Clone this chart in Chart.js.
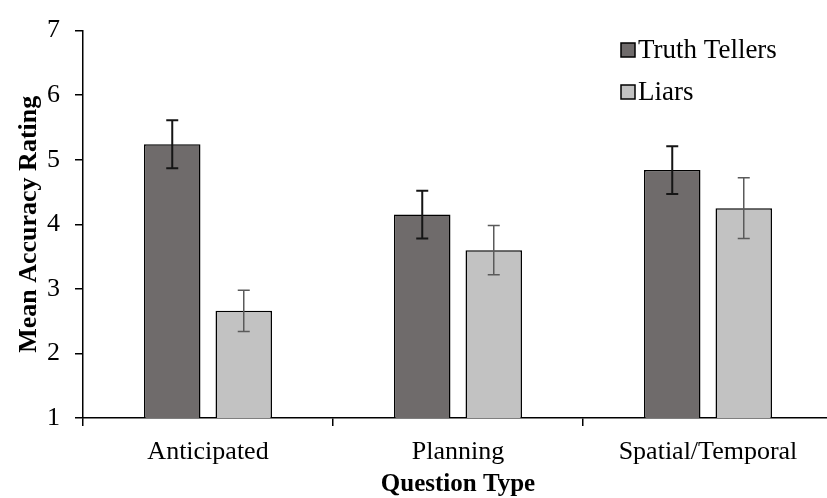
<!DOCTYPE html>
<html>
<head>
<meta charset="utf-8">
<script src="https://cdn.jsdelivr.net/npm/chart.js@4.4.1/dist/chart.umd.min.js"></script>
<style>
  html, body { margin: 0; padding: 0; background: #fff; overflow: hidden; }
  #wrap { width: 833px; height: 498px; }
</style>
</head>
<body>
<div id="wrap"><canvas id="chart"></canvas></div>
<script>
// values
const categories = ["Anticipated", "Planning", "Spatial/Temporal"];
const truthMeans = [5.24, 4.15, 4.84];
const truthErr = [0.37, 0.37, 0.37];
const liarMeans = [2.66, 3.60, 4.25];
const liarErr = [0.32, 0.38, 0.47];
const yTicks = [1, 2, 3, 4, 5, 6, 7];

const serif = "'Liberation Serif', 'Times New Roman', serif";
const errs = [truthErr, liarErr];
const errColors = ["#151515", "#5a5a5a"];
const errWidths = [2, 1.5];

// error bars drawn from the y scale
const errorBars = {
  id: "errorBars",
  afterDatasetsDraw(chart) {
    const ctx = chart.ctx;
    const y = chart.scales.y;
    chart.data.datasets.forEach((ds, i) => {
      const meta = chart.getDatasetMeta(i);
      meta.data.forEach((bar, j) => {
        const top = y.getPixelForValue(ds.data[j] + errs[i][j]);
        const bot = y.getPixelForValue(ds.data[j] - errs[i][j]);
        ctx.save();
        ctx.strokeStyle = errColors[i];
        ctx.lineWidth = errWidths[i];
        ctx.beginPath();
        ctx.moveTo(bar.x, top); ctx.lineTo(bar.x, bot);
        ctx.moveTo(bar.x - 6, top); ctx.lineTo(bar.x + 6, top);
        ctx.moveTo(bar.x - 6, bot); ctx.lineTo(bar.x + 6, bot);
        ctx.stroke();
        ctx.restore();
      });
    });
  }
};

// legend stacked in the top right corner
const cornerLegend = {
  id: "cornerLegend",
  afterDraw(chart) {
    const ctx = chart.ctx;
    ctx.save();
    ctx.font = "27px " + serif;
    ctx.textBaseline = "middle";
    chart.data.datasets.forEach((ds, i) => {
      const cy = 50 + i * 42;
      ctx.fillStyle = ds.backgroundColor;
      ctx.fillRect(621, cy - 7, 14, 14);
      ctx.strokeStyle = "#000";
      ctx.lineWidth = 1.5;
      ctx.strokeRect(621, cy - 7, 14, 14);
      ctx.fillStyle = "#000";
      ctx.fillText(ds.label, 638, cy + 1);
    });
    ctx.restore();
  }
};

new Chart(document.getElementById("chart"), {
  type: "bar",
  data: {
    labels: categories,
    datasets: [
      {
        label: "Truth Tellers",
        data: truthMeans,
        backgroundColor: "#6f6b6b",
        borderColor: "#000",
        borderWidth: 1.5,
        borderSkipped: false,
        categoryPercentage: 0.572,
        barPercentage: 0.79,
      },
      {
        label: "Liars",
        data: liarMeans,
        backgroundColor: "#c2c2c2",
        borderColor: "#000",
        borderWidth: 1.5,
        borderSkipped: false,
        categoryPercentage: 0.572,
        barPercentage: 0.79,
      },
    ],
  },
  options: {
    responsive: true,
    maintainAspectRatio: false,
    animation: false,
    layout: { padding: { top: 25, right: 0, left: 0, bottom: 0 } },
    plugins: {
      legend: { display: false },
      tooltip: { enabled: false },
    },
    scales: {
      x: {
        grid: { drawOnChartArea: false, drawTicks: true, tickLength: 8, color: "#000", lineWidth: 1.5 },
        border: { display: true, color: "#000", width: 1.5 },
        ticks: { color: "#000", padding: 11, font: { family: serif, size: 26 } },
        title: {
          display: true,
          text: "Question Type",
          color: "#000",
          padding: { top: 0, bottom: 1 },
          font: { family: serif, size: 25, weight: "bold", lineHeight: 1 },
        },
        afterFit(scale) { scale.height = 80; },
      },
      y: {
        min: 1,
        max: 7,
        afterBuildTicks(scale) { scale.ticks = yTicks.map(v => ({ value: v })); },
        grid: { drawOnChartArea: false, drawTicks: true, tickLength: 8, color: "#000", lineWidth: 1.5 },
        border: { display: true, color: "#000", width: 1.5 },
        ticks: { color: "#000", padding: 15, font: { family: serif, size: 26 } },
        title: {
          display: true,
          text: "Mean Accuracy Rating",
          color: "#000",
          padding: { top: 14, bottom: 0 },
          font: { family: serif, size: 26, weight: "bold", lineHeight: 1.2 },
        },
        afterFit(scale) { scale.width = 83; },
      },
    },
  },
  plugins: [errorBars, cornerLegend],
});
</script>
</body>
</html>
